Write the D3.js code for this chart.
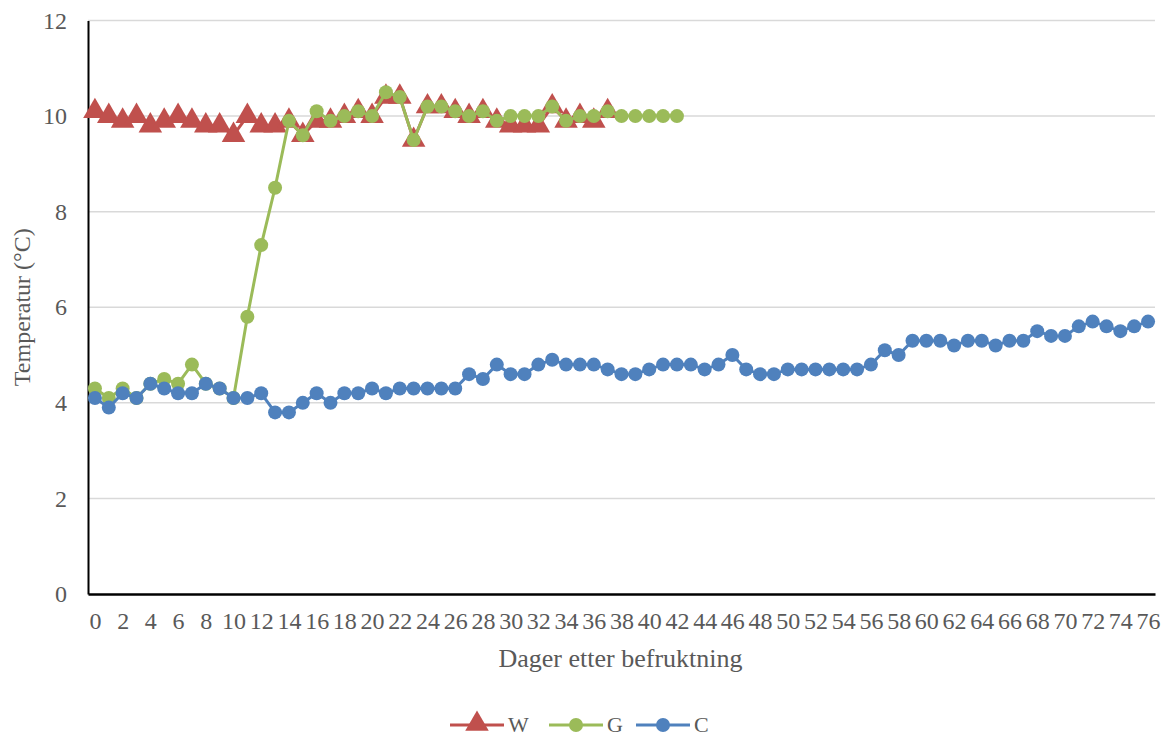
<!DOCTYPE html>
<html>
<head>
<meta charset="utf-8">
<script src="https://cdn.jsdelivr.net/npm/d3@7"></script>
<style>
  html, body { margin: 0; padding: 0; background: #fff; }
  svg { display: block; }
  text { font-family: "Liberation Serif", "Times New Roman", serif; fill: #595959; }
</style>
</head>
<body>
<svg id="chart" width="1162" height="737"></svg>
<script>
// Days after fertilisation (category axis)
const days = d3.range(0, 77);
const xTickLabels = d3.range(0, 77, 2);
const yTicks = [0, 2, 4, 6, 8, 10, 12];

// Temperature series (°C)
const seriesW = [10.1, 10.0, 9.9, 10.0, 9.8, 9.9, 10.0, 9.9, 9.8, 9.8,
                 9.6, 10.0, 9.8, 9.8, 9.9, 9.6, 9.9, 9.9, 10.0, 10.1,
                 10.0, 10.4, 10.4, 9.5, 10.2, 10.2, 10.1, 10.0, 10.1, 9.9,
                 9.8, 9.8, 9.8, 10.2, 9.9, 10.0, 9.9, 10.1];
const seriesG = [4.3, 4.1, 4.3, 4.1, 4.4, 4.5, 4.4, 4.8, 4.4, 4.3,
                 4.1, 5.8, 7.3, 8.5, 9.9, 9.6, 10.1, 9.9, 10.0, 10.1,
                 10.0, 10.5, 10.4, 9.5, 10.2, 10.2, 10.1, 10.0, 10.1, 9.9,
                 10.0, 10.0, 10.0, 10.2, 9.9, 10.0, 10.0, 10.1, 10.0, 10.0,
                 10.0, 10.0, 10.0];
const seriesC = [4.1, 3.9, 4.2, 4.1, 4.4, 4.3, 4.2, 4.2, 4.4, 4.3,
                 4.1, 4.1, 4.2, 3.8, 3.8, 4.0, 4.2, 4.0, 4.2, 4.2,
                 4.3, 4.2, 4.3, 4.3, 4.3, 4.3, 4.3, 4.6, 4.5, 4.8,
                 4.6, 4.6, 4.8, 4.9, 4.8, 4.8, 4.8, 4.7, 4.6, 4.6,
                 4.7, 4.8, 4.8, 4.8, 4.7, 4.8, 5.0, 4.7, 4.6, 4.6,
                 4.7, 4.7, 4.7, 4.7, 4.7, 4.7, 4.8, 5.1, 5.0, 5.3,
                 5.3, 5.3, 5.2, 5.3, 5.3, 5.2, 5.3, 5.3, 5.5, 5.4,
                 5.4, 5.6, 5.7, 5.6, 5.5, 5.6, 5.7];

const series = [
  { name: "W", values: seriesW, color: "#C0504D", marker: "triangle" },
  { name: "G", values: seriesG, color: "#9BBB59", marker: "circle" },
  { name: "C", values: seriesC, color: "#4F81BD", marker: "circle" }
];

const svg = d3.select("#chart");
const plot = { left: 88, right: 1155, top: 20.5, bottom: 594 };

const x = d3.scalePoint().domain(days).range([plot.left, plot.right]).padding(0.5);
const y = d3.scaleLinear().domain([0, 12]).range([plot.bottom, plot.top]);

// Horizontal gridlines
svg.append("g")
  .selectAll("line")
  .data(yTicks.filter(d => d > 0))
  .join("line")
  .attr("x1", plot.left).attr("x2", plot.right)
  .attr("y1", d => y(d)).attr("y2", d => y(d))
  .attr("stroke", "#D9D9D9").attr("stroke-width", 1.5);

// Y axis
const yAxis = svg.append("g")
  .attr("transform", `translate(${plot.left},0)`)
  .call(d3.axisLeft(y).tickValues(yTicks).tickSize(0).tickPadding(21));
yAxis.select(".domain").attr("stroke", "#000").attr("stroke-width", 2);
yAxis.selectAll("text")
  .style("font-family", "Liberation Serif, serif")
  .style("font-size", "24px").attr("fill", "#595959");

// X axis
const xAxis = svg.append("g")
  .attr("transform", `translate(0,${plot.bottom})`)
  .call(d3.axisBottom(x).tickValues(xTickLabels).tickSize(0).tickPadding(18));
xAxis.select(".domain").attr("stroke", "#000").attr("stroke-width", 2.5);
xAxis.selectAll("text")
  .style("font-family", "Liberation Serif, serif")
  .style("font-size", "24px").attr("fill", "#595959");

// Axis titles
svg.append("text")
  .attr("x", (plot.left + plot.right) / 2 - 1).attr("y", 667)
  .attr("text-anchor", "middle")
  .style("font-size", "26px")
  .text("Dager etter befruktning");

svg.append("text")
  .attr("transform", `translate(30,${(plot.top + plot.bottom) / 2}) rotate(-90)`)
  .attr("text-anchor", "middle")
  .style("font-size", "24px")
  .text("Temperatur (°C)");

// Series lines and markers
const triangle = d3.symbol().type(d3.symbolTriangle).size(240);
const line = d3.line().x((d, i) => x(i)).y(d => y(d));

series.forEach(s => {
  const g = svg.append("g");
  g.append("path")
    .datum(s.values)
    .attr("d", line)
    .attr("fill", "none")
    .attr("stroke", s.color)
    .attr("stroke-width", 3)
    .attr("stroke-linejoin", "round");
  if (s.marker === "triangle") {
    g.selectAll("path.mk")
      .data(s.values)
      .join("path")
      .attr("class", "mk")
      .attr("d", triangle)
      .attr("transform", (d, i) => `translate(${x(i)},${y(d)})`)
      .attr("fill", s.color);
  } else {
    g.selectAll("circle")
      .data(s.values)
      .join("circle")
      .attr("cx", (d, i) => x(i))
      .attr("cy", d => y(d))
      .attr("r", 7)
      .attr("fill", s.color);
  }
});

// Legend
const legendY = 725;
const legendItems = [
  { s: series[0], x0: 450 },
  { s: series[1], x0: 549 },
  { s: series[2], x0: 636 }
];
legendItems.forEach(({ s, x0 }) => {
  const g = svg.append("g");
  g.append("line")
    .attr("x1", x0).attr("x2", x0 + 54)
    .attr("y1", legendY).attr("y2", legendY)
    .attr("stroke", s.color).attr("stroke-width", 3);
  if (s.marker === "triangle") {
    g.append("path").attr("d", triangle)
      .attr("transform", `translate(${x0 + 27},${legendY - 1})`)
      .attr("fill", s.color);
  } else {
    g.append("circle").attr("cx", x0 + 27).attr("cy", legendY).attr("r", 7).attr("fill", s.color);
  }
  g.append("text")
    .attr("x", x0 + 58).attr("y", legendY + 7)
    .style("font-size", "22px")
    .text(s.name);
});
</script>
</body>
</html>
